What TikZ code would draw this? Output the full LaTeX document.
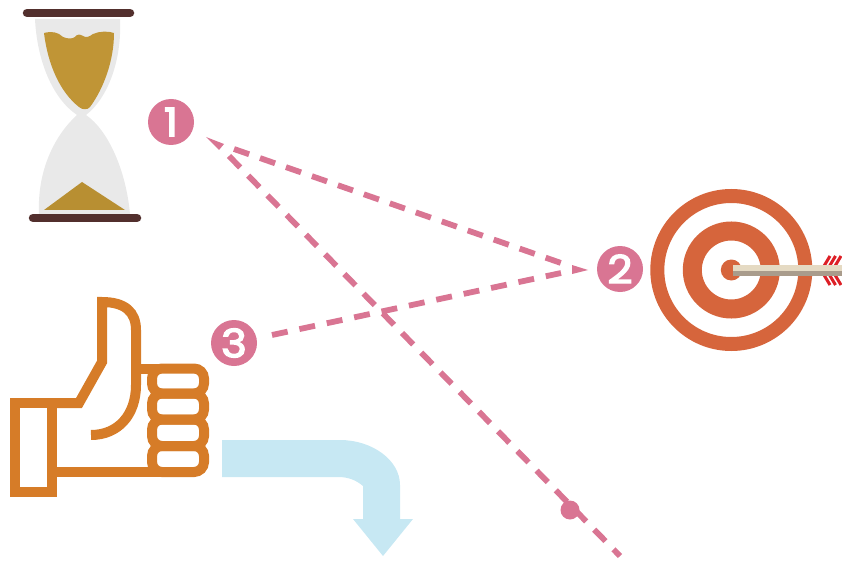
\documentclass[tikz,border=0pt]{standalone}
\usepackage{fontspec}
\setmainfont{Poppins}
\newfontfamily\badgefont[FakeBold=3.5,FakeStretch=1.12]{Poppins}
\definecolor{pinkc}{HTML}{D97593}
\definecolor{glass}{HTML}{E9E9E9}
\definecolor{sand}{HTML}{C09536}
\definecolor{sandb}{HTML}{B88F32}
\definecolor{capc}{HTML}{522F2D}
\definecolor{thumb}{HTML}{D67C28}
\definecolor{targetc}{HTML}{D6653C}
\definecolor{bluec}{HTML}{C7E8F3}
\definecolor{shafta}{HTML}{E5DAC3}
\definecolor{shaftb}{HTML}{A99C8C}
\definecolor{fletch}{HTML}{DD1F26}
\tikzset{
  badge/.style={circle,fill=pinkc,minimum size=46pt,inner sep=0pt,text=white,font=\badgefont\fontsize{39}{39}\selectfont},
  dashline/.style={draw=pinkc,line width=5.8pt,dash pattern=on 16pt off 11.5pt},
  thumbline/.style={draw=thumb,line width=10pt,line join=miter},
  finger/.style={draw=thumb,line width=10pt,rounded corners=10pt},
  ring/.style={circle,draw=targetc,inner sep=0pt},
  capbar/.style={draw=capc,line width=8.5pt,line cap=round},
  fletching/.style={draw=fletch,line width=3pt}
}
\begin{document}
\begin{tikzpicture}[x=1pt,y=-1pt]
\useasboundingbox (0,0) rectangle (842,561);
% hourglass
\fill[glass] (35,19) -- (120,19) .. controls (122,60) and (108,98) .. (86,115)
  .. controls (108,130) and (126,170) .. (130,214) -- (39,214)
  .. controls (37,170) and (55,135) .. (77,115) .. controls (52,98) and (37,60) .. (35,19) -- cycle;
\fill[sand] (44,33) .. controls (52,31) and (58,32) .. (63,37) .. controls (68,39) and (72,39) .. (75,37)
  .. controls (77,34) and (80,34) .. (83,36) .. controls (86,38) and (89,37) .. (93,34)
  .. controls (100,31) and (108,31) .. (114,33) .. controls (114,60) and (104,88) .. (90,107)
  .. controls (88,110) and (82,110) .. (79,107) .. controls (60,92) and (48,65) .. (44,33) -- cycle;
\fill[sandb] (82,182) -- (125,210) -- (44,210) -- cycle;
\coordinate (capa1) at (27,13); \coordinate (capa2) at (130,13);
\coordinate (capb1) at (33,218); \coordinate (capb2) at (137,218);
\draw[capbar] (capa1) -- (capa2);
\draw[capbar] (capb1) -- (capb2);
% target
\node[ring,line width=14pt,minimum size=148pt] (outer) at (731.3,270) {};
\node[ring,line width=19pt,minimum size=78pt] (middle) at (731.3,270) {};
\node[circle,fill=targetc,minimum size=21pt,inner sep=0pt] (bull) at (731.3,270) {};
% arrow
\foreach \d in {0,5.5,11}{
  \draw[fletching] (824+\d,266) -- (830+\d,256);
  \draw[fletching] (824+\d,275) -- (830+\d,285);
}
\fill[shafta] (733,265) rectangle (842,270.5);
\fill[shaftb] (733,270.5) rectangle (842,276);
% thumb
\draw[thumbline] (15,403) rectangle (52,492);
\draw[thumbline] (52,403) -- (79,403) -- (102,362) -- (102,302) .. controls (125,302) and (136,312) .. (136,330)
  -- (136,385) .. controls (136,415) and (118,435) .. (91,435);
\draw[thumbline] (136,368.5) -- (160,368.5);
\draw[thumbline] (52,472) -- (167,472);
\draw[finger] (152,368.5) rectangle (204,393.5);
\draw[finger] (152,393.5) rectangle (204,419.5);
\draw[finger] (152,419.5) rectangle (204,446);
\draw[finger] (152,446) rectangle (204,472);
% blue arrow
\fill[bluec] (222,440) -- (340,440) .. controls (372,440) and (400,460) .. (400,485) -- (400,519) -- (413,519)
  -- (383,556) -- (353,519) -- (363,519) -- (363,486) .. controls (356,480) and (348,477) .. (338,477) -- (222,477) -- cycle;
% badges
\node[badge] (one) at (171,122) {1};
\node[badge] (two) at (620,269) {2};
\node[badge] (three) at (234,343) {3};
% dashed lines
\coordinate (apexa) at (206,137);
\coordinate (tipb) at (588,270);
\coordinate (starta) at (234,149);
\coordinate (enda) at (561,263);
\coordinate (startb) at (272,335);
\coordinate (endb) at (561,273);
\coordinate (startc) at (229,156);
\coordinate (endc) at (620,556);
\draw[dashline] (starta) -- (enda);
\draw[dashline,dash pattern=on 16pt off 12pt] (startb) -- (endb);
\draw[dashline] (startc) -- (endc);
\fill[pinkc] (apexa) -- (224,144) -- (219,150) -- cycle;
\fill[pinkc] (tipb) -- (572,265) -- (572,274) -- cycle;
\node[circle,fill=pinkc,minimum size=19pt,inner sep=0pt] (dot) at (570,510) {};
\end{tikzpicture}
\end{document}
